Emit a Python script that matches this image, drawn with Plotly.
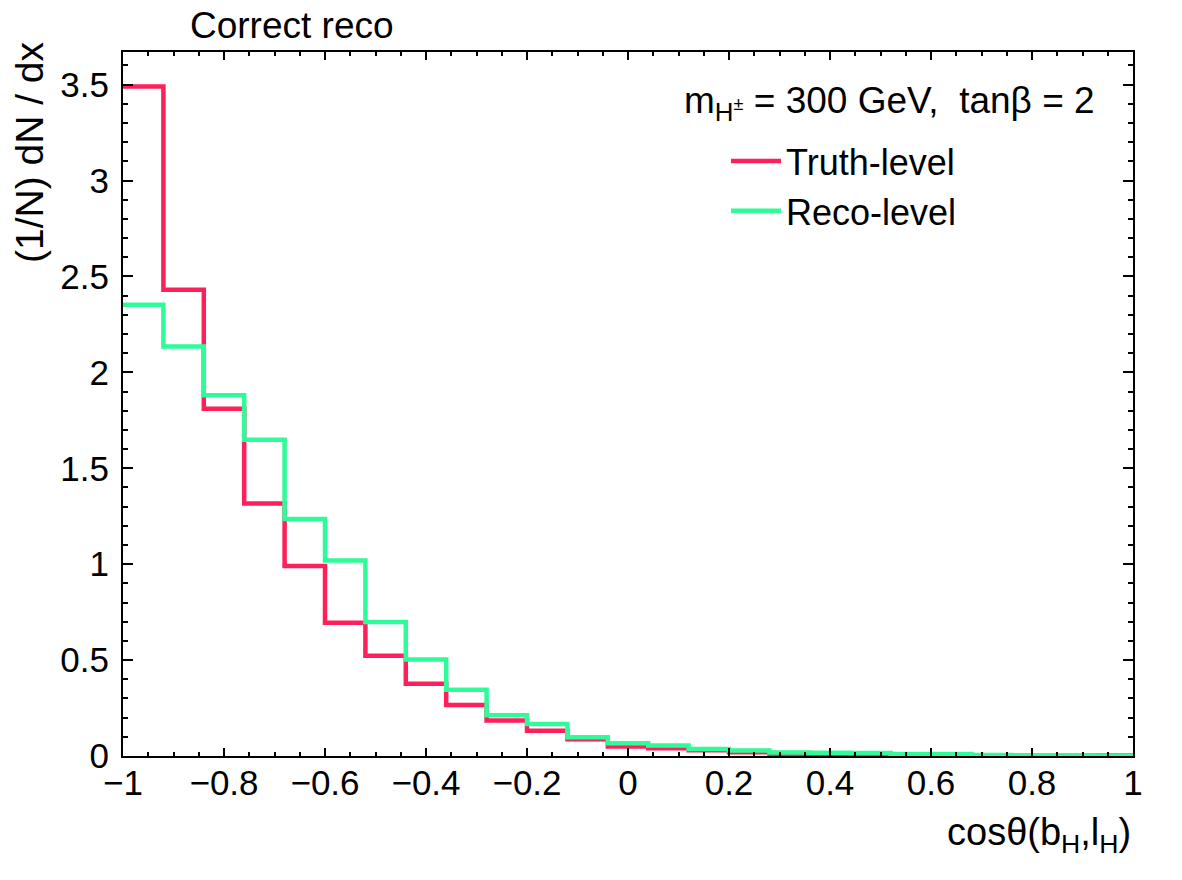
import numpy as np
import plotly.graph_objects as go

# ---- data ----
x_min, x_max, n_bins = -1.0, 1.0, 25
truth_level = [3.49, 2.43, 1.81, 1.316, 0.99, 0.695, 0.522, 0.376, 0.266, 0.185,
               0.132, 0.087, 0.05, 0.04, 0.03, 0.02, 0.012, 0.01, 0.008, 0.006,
               0.005, 0.004, 0.003, 0.003, 0.002]
reco_level = [2.352, 2.135, 1.88, 1.648, 1.236, 1.019, 0.698, 0.503, 0.346, 0.212,
              0.167, 0.098, 0.067, 0.055, 0.036, 0.029, 0.018, 0.017, 0.016, 0.011,
              0.010, 0.005, 0.004, 0.004, 0.003]
series_names = ["Truth-level", "Reco-level"]
series_colors = ["#ff1f5b", "#2efc98"]
x_ticks = [-1, -0.8, -0.6, -0.4, -0.2, 0, 0.2, 0.4, 0.6, 0.8, 1]
y_ticks = [0, 0.5, 1, 1.5, 2, 2.5, 3, 3.5]

edges = np.linspace(x_min, x_max, n_bins + 1)

FONT = "Liberation Sans, Arial, Helvetica, sans-serif"

fig = go.Figure()
for name, vals, col in zip(series_names, [truth_level, reco_level], series_colors):
    xs = list(edges)
    ys = list(vals) + [vals[-1]]
    fig.add_trace(go.Scatter(
        x=xs, y=ys, mode="lines", name=name, legendgroup=name,
        line=dict(color=col, width=4.5, shape="hv"),
    ))

W, H = 1182, 880
ml, mr, mt, mb = 123, 49, 52, 124
pw, ph = W - ml - mr, H - mt - mb

fig.update_layout(
    width=W, height=H,
    margin=dict(l=ml, r=mr, t=mt, b=mb),
    paper_bgcolor="white", plot_bgcolor="white",
    font=dict(family=FONT, color="black", size=35),
    showlegend=True,
    legend=dict(
        x=(734 - ml - 8) / pw, y=(H - mb - 131) / ph,
        xanchor="left", yanchor="top",
        font=dict(size=36, family=FONT),
        bgcolor="rgba(0,0,0,0)",
        itemwidth=50,
        tracegroupgap=9,
        traceorder="normal",
    ),
)

fig.update_xaxes(
    range=[x_min, x_max], tickvals=x_ticks,
    ticks="inside", ticklen=8, tickwidth=2, tickcolor="black",
    showline=True, linecolor="black", linewidth=2, mirror="ticks",
    showgrid=False, zeroline=False,
    tickfont=dict(size=35, family=FONT),
    ticklabelstandoff=-5,
    minor=dict(dtick=0.05, ticks="inside", ticklen=4, tickwidth=1.5,
               tickcolor="black", showgrid=False),
)
fig.update_yaxes(
    range=[0, 3.67], tickvals=y_ticks,
    ticks="inside", ticklen=10, tickwidth=2, tickcolor="black",
    showline=True, linecolor="black", linewidth=2, mirror="ticks",
    showgrid=False, zeroline=False,
    tickfont=dict(size=35, family=FONT),
    ticklabelstandoff=5,
    minor=dict(dtick=0.1, ticks="inside", ticklen=5, tickwidth=1.5,
               tickcolor="black", showgrid=False),
)

annotations = [
    dict(text="Correct reco", xref="paper", yref="paper",
         x=(188 - ml) / pw, y=(H - mb - 25) / ph, xanchor="left", yanchor="middle",
         showarrow=False, font=dict(size=37, family=FONT)),
    dict(text="m<sub>H<sup>±</sup></sub> = 300 GeV,  tanβ = 2", xref="paper", yref="paper",
         x=(682 - ml) / pw, y=(H - mb - 103) / ph, xanchor="left", yanchor="middle",
         showarrow=False, font=dict(size=37, family=FONT)),
    dict(text="cosθ(b<sub>H</sub>,l<sub>H</sub>)", xref="paper", yref="paper",
         x=1.0, y=(H - mb - 835) / ph, xanchor="right", yanchor="middle",
         showarrow=False, font=dict(size=38, family=FONT)),
    dict(text="(1/N) dN / dx", xref="paper", yref="paper", textangle=-90,
         x=(30 - ml) / pw, y=(H - mb - 39) / ph, xanchor="center", yanchor="top",
         showarrow=False, font=dict(size=39, family=FONT)),
]
fig.update_layout(annotations=annotations)

fig.write_html("out.html")
